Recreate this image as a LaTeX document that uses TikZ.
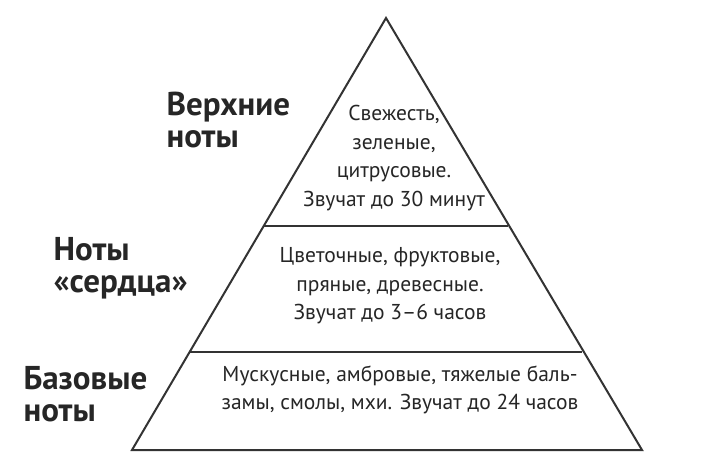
\documentclass[tikz,border=0pt]{standalone}
\usepackage{fontspec}
\setmainfont{PT Sans}
\begin{document}
\begin{tikzpicture}[x=1pt,y=-1pt,
  body/.style={align=center,font=\fontsize{21.5}{28.5}\selectfont,text=black!85},
  lab/.style={align=left,anchor=west,font=\bfseries\fontsize{33}{32}\selectfont,text=black!85}]
\useasboundingbox[fill=white] (0,0) rectangle (720,468);
\coordinate (apex) at (386,18);
\coordinate (bl) at (132,450);
\coordinate (br) at (642,450);
\coordinate (l1) at (264,226); \coordinate (r1) at (508,226);
\coordinate (l2) at (190,352); \coordinate (r2) at (582,352);
\draw[line width=2pt,black!80,line join=miter] (apex) -- (bl) -- (br) -- cycle;
\draw[line width=2pt,black!80] (l1) -- (r1);
\draw[line width=2pt,black!80] (l2) -- (r2);
\node[body] (t1) at (394,158) {Свежесть,\\зеленые,\\цитрусовые.\\Звучат до 30 минут};
\node[body] (t2) at (390,286) {Цветочные, фруктовые,\\пряные, древесные.\\Звучат до 3–6 часов};
\node[body] (t3) at (400,390) {Мускусные, амбровые, тяжелые баль-\\замы, смолы, мхи. Звучат до 24 часов};
\node[lab] (a1) at (163,120) {Верхние\\ноты};
\node[lab] (a2) at (50,268) {Ноты\\«сердца»};
\node[lab] (a3) at (20,394) {Базовые\\ноты};
\end{tikzpicture}
\end{document}
